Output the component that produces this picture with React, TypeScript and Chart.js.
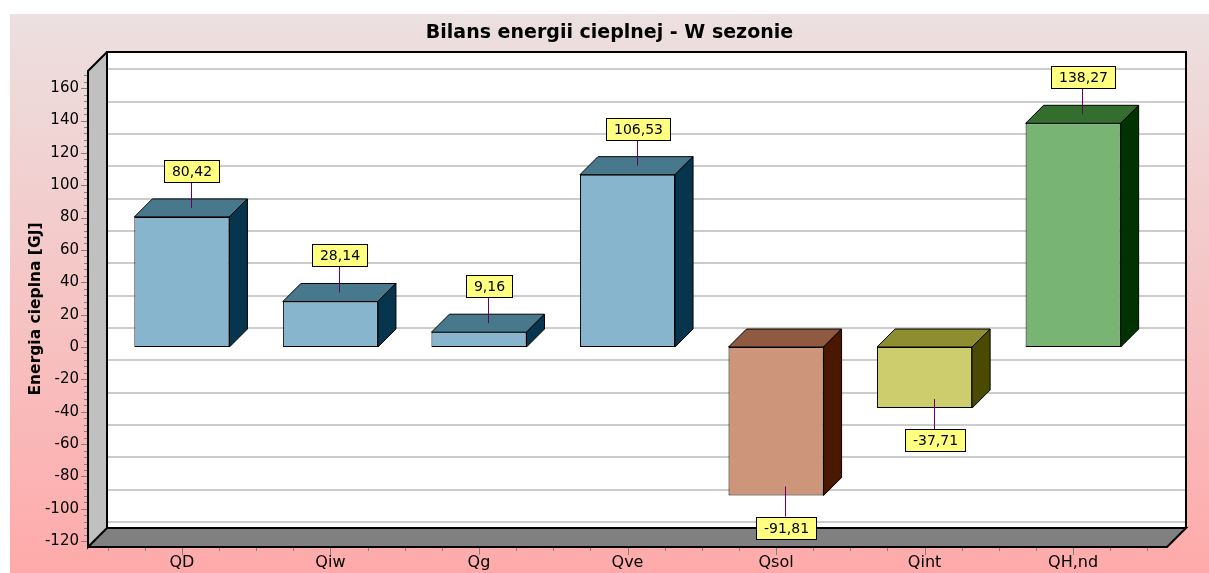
import React, { useEffect, useRef } from 'react';
import { Chart, registerables } from 'chart.js';

Chart.register(...registerables);

// ---- data ----
const categories = ['QD', 'Qiw', 'Qg', 'Qve', 'Qsol', 'Qint', 'QH,nd'];
const values = [80.42, 28.14, 9.16, 106.53, -91.81, -37.71, 138.27];
const valueLabels = ['80,42', '28,14', '9,16', '106,53', '-91,81', '-37,71', '138,27'];
const yTickValues = [-120, -100, -80, -60, -40, -20, 0, 20, 40, 60, 80, 100, 120, 140, 160];
const titleText = 'Bilans energii cieplnej - W sezonie';
const yTitleText = 'Energia cieplna [GJ]';

// ---- styles ----
const frontColors = ['#87b5cd', '#87b5cd', '#87b5cd', '#87b5cd', '#cd967a', '#cdcd6d', '#78b474'];
const topColors = ['#48788c', '#48788c', '#48788c', '#48788c', '#8f5a40', '#8e8e30', '#346e2f'];
const sideColors = ['#06354d', '#06354d', '#06354d', '#06354d', '#4a1800', '#4a4a00', '#003300'];

const FONT = "'DejaVu Sans', sans-serif";
const WALL = 19; // wall depth (px)
const BAR_D = 18; // bar depth (px)
const Y_MIN = -123.6;
const Y_MAX = 170.6;
const X_MIN = -0.632;
const X_MAX = 6.632;
const Y_MINOR = 4;

function poly(ctx: CanvasRenderingContext2D, pts: number[][], fill: string | null, stroke: string | null, lw = 1) {
  ctx.beginPath();
  ctx.moveTo(pts[0][0], pts[0][1]);
  for (let i = 1; i < pts.length; i++) ctx.lineTo(pts[i][0], pts[i][1]);
  ctx.closePath();
  if (fill) {
    ctx.fillStyle = fill;
    ctx.fill();
  }
  if (stroke) {
    ctx.strokeStyle = stroke;
    ctx.lineWidth = lw;
    ctx.stroke();
  }
}

const threeDPlugin = {
  id: 'threeD',
  beforeDraw(chart: any) {
    const { ctx, width, height } = chart;
    ctx.save();
    ctx.fillStyle = '#ffffff';
    ctx.fillRect(0, 0, width, height);
    const g = ctx.createLinearGradient(0, 14, 0, height);
    g.addColorStop(0, '#ece0e0');
    g.addColorStop(1, '#ffaaaa');
    ctx.fillStyle = g;
    ctx.fillRect(10, 14, width - 10, height - 14);
    ctx.restore();
  },
  beforeDatasetsDraw(chart: any) {
    const { ctx } = chart;
    const { left, right, top, bottom } = chart.chartArea;
    const x = chart.scales.x;
    const y = chart.scales.y;
    const D = WALL;
    ctx.save();
    // back wall
    ctx.fillStyle = '#ffffff';
    ctx.fillRect(left + D, top - D, right - left, bottom - top);
    // gridlines on back wall
    ctx.strokeStyle = '#cccccc';
    ctx.lineWidth = 2;
    yTickValues.forEach((v) => {
      const py = Math.round(y.getPixelForValue(v) - D);
      ctx.beginPath();
      ctx.moveTo(left + D, py);
      ctx.lineTo(right + D, py);
      ctx.stroke();
    });
    // left wall
    poly(ctx, [[left, top], [left + D, top - D], [left + D, bottom - D], [left, bottom]], '#c0c0c0', null);
    // floor
    poly(ctx, [[left, bottom], [left + D, bottom - D], [right + D, bottom - D], [right, bottom]], '#808080', null);
    // outlines
    ctx.strokeStyle = '#000000';
    ctx.lineWidth = 2;
    ctx.lineJoin = 'miter';
    ctx.beginPath();
    ctx.moveTo(left + D, bottom - D);
    ctx.lineTo(left + D, top - D);
    ctx.lineTo(right + D, top - D);
    ctx.lineTo(right + D, bottom - D);
    ctx.stroke();
    ctx.beginPath();
    ctx.moveTo(left + D, top - D);
    ctx.lineTo(left, top);
    ctx.lineTo(left, bottom);
    ctx.lineTo(left + D, bottom - D);
    ctx.stroke();
    ctx.beginPath();
    ctx.moveTo(left + D, bottom - D);
    ctx.lineTo(right + D, bottom - D);
    ctx.lineTo(right, bottom);
    ctx.lineTo(left, bottom);
    ctx.stroke();

    // y axis tick marks (major + minor)
    ctx.strokeStyle = '#808080';
    ctx.lineWidth = 1;
    for (let v = yTickValues[0]; v <= Y_MAX; v += Y_MINOR) {
      const major = yTickValues.includes(v);
      const py = Math.round(y.getPixelForValue(v)) + 0.5;
      ctx.beginPath();
      ctx.moveTo(left - (major ? 7 : 4), py);
      ctx.lineTo(left - 1, py);
      ctx.stroke();
    }
    // x axis tick marks (quarter category steps)
    for (let k = 0; k <= categories.length * 4; k++) {
      const v = -0.5 + k * 0.25;
      const major = k % 4 === 2;
      const px = Math.round(x.getPixelForValue(v)) + 0.5;
      ctx.beginPath();
      ctx.moveTo(px, bottom + 1);
      ctx.lineTo(px, bottom + (major ? 8 : 4));
      ctx.stroke();
    }
    ctx.restore();
  },
  afterDatasetsDraw(chart: any) {
    const { ctx } = chart;
    const meta = chart.getDatasetMeta(0);
    const d = BAR_D;
    ctx.save();
    ctx.lineJoin = 'miter';
    meta.data.forEach((bar: any, i: number) => {
      const p = bar.getProps(['x', 'y', 'base', 'width'], true);
      const x1 = p.x - p.width / 2;
      const x2 = p.x + p.width / 2;
      const yT = Math.min(p.y, p.base);
      const yB = Math.max(p.y, p.base);
      poly(ctx, [[x1, yT], [x1 + d, yT - d], [x2 + d, yT - d], [x2, yT]], topColors[i], '#000', 1);
      poly(ctx, [[x2, yT], [x2 + d, yT - d], [x2 + d, yB - d], [x2, yB]], sideColors[i], '#000', 1);
    });
    // data marks
    ctx.font = `14px ${FONT}`;
    meta.data.forEach((bar: any, i: number) => {
      const p = bar.getProps(['x', 'y', 'base', 'width'], true);
      const ax = Math.round(p.x + d / 2) + 0.5;
      const ay = p.y - d / 2;
      const neg = values[i] < 0;
      const len = neg ? 30 : 26;
      const tw = ctx.measureText(valueLabels[i]).width;
      const bw = Math.round(tw + 15);
      const bh = 22;
      const edge = neg ? ay + len : ay - len;
      ctx.strokeStyle = '#660066';
      ctx.lineWidth = 1;
      ctx.beginPath();
      ctx.moveTo(ax, ay);
      ctx.lineTo(ax, edge);
      ctx.stroke();
      const bx = Math.round(ax - bw / 2) + 0.5;
      const by = Math.round(neg ? edge : edge - bh) + 0.5;
      ctx.fillStyle = '#ffff80';
      ctx.fillRect(bx, by, bw, bh);
      ctx.strokeStyle = '#000';
      ctx.strokeRect(bx, by, bw, bh);
      ctx.fillStyle = '#000';
      ctx.textAlign = 'center';
      ctx.textBaseline = 'middle';
      ctx.fillText(valueLabels[i], bx + bw / 2, by + bh / 2 + 1);
    });
    ctx.restore();
  },
  afterDraw(chart: any) {
    const { ctx } = chart;
    ctx.save();
    ctx.font = `bold 19px ${FONT}`;
    ctx.fillStyle = '#000';
    ctx.textAlign = 'center';
    ctx.textBaseline = 'middle';
    ctx.fillText(titleText, 609.5, 33);
    ctx.restore();
  },
};

export default function App() {
  const ref = useRef<HTMLCanvasElement>(null);
  useEffect(() => {
    if (!ref.current) return;
    const chart = new Chart(ref.current, {
      type: 'bar',
      data: {
        datasets: [
          {
            data: values.map((v, i) => ({ x: i, y: v })),
            backgroundColor: frontColors,
            borderColor: '#000000',
            borderWidth: 1,
            borderSkipped: false,
            categoryPercentage: 1,
            barPercentage: 0.64,
          },
        ],
      },
      options: {
        animation: false,
        responsive: false,
        devicePixelRatio: 1,
        layout: { padding: { top: 71, right: 42, bottom: 0, left: 0 } },
        plugins: {
          legend: { display: false },
          tooltip: { enabled: false },
          title: { display: false },
        },
        scales: {
          x: {
            type: 'linear',
            offset: false,
            min: X_MIN,
            max: X_MAX,
            grid: { display: false, drawTicks: false },
            border: { display: false },
            afterBuildTicks: (scale: any) => {
              scale.ticks = categories.map((_, i) => ({ value: i }));
            },
            afterFit: (scale: any) => {
              scale.height = 26;
            },
            ticks: {
              autoSkip: false,
              maxRotation: 0,
              padding: 6,
              color: '#000',
              font: { family: FONT, size: 16 },
              callback: (v: any) => categories[Math.round(Number(v))] ?? '',
            },
          },
          y: {
            type: 'linear',
            min: Y_MIN,
            max: Y_MAX,
            grid: { display: false, drawTicks: false },
            border: { display: false },
            afterBuildTicks: (scale: any) => {
              scale.ticks = yTickValues.map((v) => ({ value: v }));
            },
            afterFit: (scale: any) => {
              scale.width = 88;
            },
            ticks: {
              autoSkip: false,
              padding: 9,
              color: '#000',
              font: { family: FONT, size: 15 },
              callback: (v: any) => String(v),
            },
            title: {
              display: true,
              text: yTitleText,
              color: '#000',
              font: { family: FONT, size: 15.5, weight: 'bold' },
              padding: { top: 26.5, bottom: 0 },
            },
          },
        },
      },
      plugins: [threeDPlugin],
    } as any);
    return () => chart.destroy();
  }, []);
  return (
    <div style={{ position: 'fixed', left: 0, top: 0, width: 1209, height: 573 }}>
      <canvas ref={ref} width={1209} height={573} style={{ display: 'block' }} />
    </div>
  );
}
